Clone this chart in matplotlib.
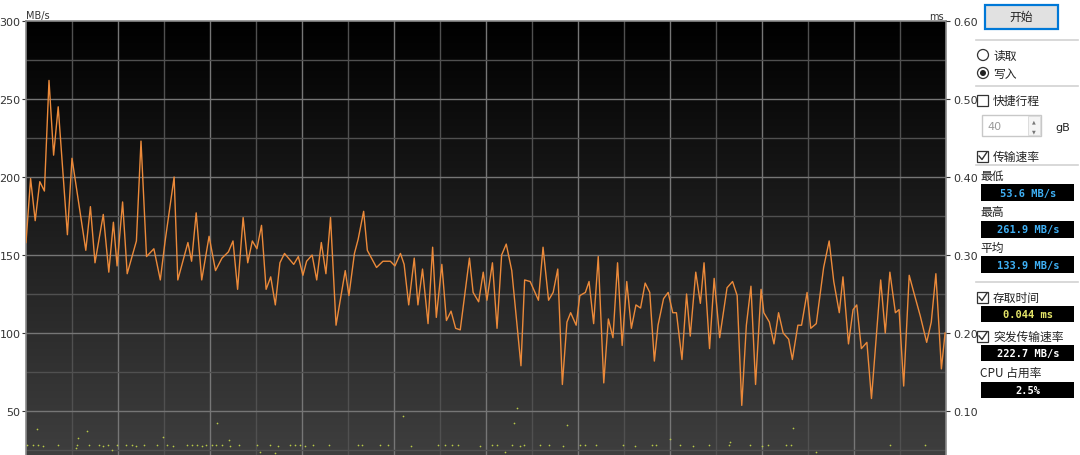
import numpy as np
import matplotlib
matplotlib.use("Agg")
import matplotlib.pyplot as plt
from matplotlib.patches import Rectangle, Ellipse
from matplotlib.lines import Line2D

# position of the test in percent, transfer rate in MB/s
pos = [0.0, 0.5, 1.0, 1.5, 2.0, 2.5, 3.0, 3.5, 4.5, 5.0, 6.5, 7.0, 7.5, 8.4, 9.0, 9.5, 9.9, 10.5, 11.0, 12.0,
       12.5, 13.1, 13.9, 14.6, 15.1, 16.1, 16.5, 17.6, 18.0, 18.5, 19.1, 19.9, 20.6, 21.3, 22.0, 22.5, 23.0, 23.6,
       24.1, 24.6, 25.1, 25.6, 26.1, 26.6, 27.1, 27.6, 28.1, 29.1, 29.6, 30.1, 30.5, 31.1, 31.6, 32.1, 32.6, 33.1,
       33.7, 34.7, 35.1, 35.7, 36.1, 36.7, 37.1, 38.1, 38.8, 39.6, 40.1, 40.7, 41.1, 41.6, 42.2, 42.6, 43.1, 43.7,
       44.2, 44.6, 45.2, 45.7, 46.2, 46.7, 47.2, 48.2, 48.6, 49.2, 49.7, 50.1, 50.7, 51.2, 51.7, 52.2, 52.8, 53.8,
       54.2, 54.8, 55.7, 56.2, 56.8, 57.3, 57.8, 58.3, 58.8, 59.2, 59.8, 60.2, 60.8, 61.2, 61.7, 62.2, 62.8, 63.3,
       63.8, 64.3, 64.8, 65.3, 65.8, 66.3, 66.8, 67.3, 67.8, 68.3, 68.7, 69.3, 69.8, 70.3, 70.7, 71.3, 71.8, 72.2,
       72.8, 73.3, 73.7, 74.3, 74.8, 75.4, 76.2, 76.8, 77.3, 77.8, 78.3, 78.8, 79.3, 79.9, 80.2, 80.8, 81.3, 81.8,
       82.3, 82.9, 83.3, 83.9, 84.3, 84.9, 85.3, 85.9, 86.7, 87.3, 87.8, 88.4, 88.8, 89.4, 89.9, 90.3, 90.8, 91.4,
       91.9, 92.4, 92.9, 93.4, 93.9, 94.5, 94.9, 95.4, 96.0, 96.5, 97.2, 97.9, 98.4, 98.9, 99.5, 99.9]
speed = [158, 199, 172, 197, 191, 261.9, 214, 245, 163, 212, 153, 181, 145, 176, 139, 171, 143, 184, 138, 159,
         223, 149, 154, 134, 158, 200, 134, 158, 146, 177, 134, 162, 140, 148, 152, 159, 128, 174,
         145, 159, 154, 169, 128, 136, 118, 145, 151, 144, 149, 137, 146, 150, 134, 158, 138, 174,
         105, 140, 124, 151, 160, 178, 153, 142, 146, 146, 143, 151, 144, 118, 148, 118, 141, 106,
         155, 110, 144, 108, 114, 103, 102, 148, 126, 120, 139, 121, 145, 103, 150, 157, 140, 79,
         134, 133, 121, 155, 121, 126, 141, 67, 107, 113, 105, 124, 126, 133, 106, 149, 68, 109,
         97, 145, 92, 133, 103, 118, 116, 132, 126, 82, 105, 122, 126, 113, 113, 83, 125, 98,
         139, 119, 145, 90, 135, 97, 129, 133, 124, 53.6, 105, 130, 67, 128, 113, 107, 93, 113,
         100, 96, 83, 105, 105, 126, 103, 106, 142, 159, 133, 113, 136, 93, 115, 118, 90, 94,
         58, 96, 134, 100, 139, 113, 115, 66, 137, 126, 111, 94, 107, 138, 77, 100]

# access time samples (percent, ms)
acc_pos = [0.1, 0.8, 1.3, 1.9, 3.5, 5.5, 6.8, 7.9, 8.4, 8.9, 9.9, 10.9, 11.5, 12.0, 12.8, 14.2, 15.3, 16.0,
           17.5, 18.0, 18.6, 19.1, 19.6, 20.2, 20.7, 21.3, 22.2, 23.1, 25.1, 26.5, 27.4, 28.7, 29.2, 29.8,
           30.3, 31.2, 32.9, 36.1, 1.2, 6.6, 5.6, 14.9, 20.8, 5.4, 9.3, 25.4, 27.1, 22.1,
           36.5, 38.5, 39.4, 41.9, 44.8, 45.5, 46.3, 47.0, 49.3, 50.6, 51.2, 52.8, 53.7, 54.1, 55.9, 56.8,
           58.4, 60.2, 60.8, 62.0, 64.9, 66.2, 68.0, 68.5, 71.1, 72.5, 74.2, 41.0, 53.4, 53.0, 58.8, 52.1,
           70.0, 76.4, 76.5, 78.7, 80.0, 80.7, 82.6, 83.2, 93.9, 97.7, 83.4, 85.9]
acc_ms = [0.056, 0.057, 0.056, 0.055, 0.056, 0.057, 0.056, 0.057, 0.055, 0.056, 0.056, 0.057, 0.056, 0.055,
          0.056, 0.057, 0.056, 0.055, 0.057, 0.056, 0.056, 0.055, 0.057, 0.056, 0.056, 0.057, 0.055, 0.056,
          0.056, 0.057, 0.055, 0.056, 0.057, 0.056, 0.055, 0.056, 0.057, 0.056, 0.077, 0.074, 0.065, 0.067,
          0.085, 0.052, 0.050, 0.047, 0.046, 0.063,
          0.056, 0.057, 0.056, 0.055, 0.057, 0.056, 0.056, 0.057, 0.055, 0.056, 0.057, 0.056, 0.055, 0.056,
          0.057, 0.056, 0.055, 0.057, 0.056, 0.056, 0.057, 0.055, 0.056, 0.057, 0.056, 0.055, 0.056, 0.094,
          0.104, 0.085, 0.082, 0.047, 0.064, 0.056, 0.060, 0.057, 0.055, 0.056, 0.057, 0.056, 0.056, 0.057,
          0.078, 0.047]

speed_ticks = [50, 100, 150, 200, 250, 300]
ms_ticks = [0.1, 0.2, 0.3, 0.4, 0.5, 0.6]

stats = [("最低", "53.6 MB/s", "#3fb0f5"), ("最高", "261.9 MB/s", "#3fb0f5"), ("平均", "133.9 MB/s", "#3fb0f5")]
access_text = "0.044 ms"
burst_text = "222.7 MB/s"
cpu_text = "2.5%"

W, H = 1080, 456
CJK = ["Noto Sans CJK SC", "DejaVu Sans"]

fig = plt.figure(figsize=(W / 100, H / 100), dpi=100)
fig.patch.set_facecolor("white")


def fx(x):
    return x / W


def fy(y):
    return 1 - y / H


# chart area: 300 MB/s at y=22, 78 px per 50 MB/s, extends below the image
left, right, top = 26, 946, 22
ax_h = 300 * 78 / 50
ax = fig.add_axes([fx(left), fy(top + ax_h), (right - left) / W, ax_h / H])
ax.set_xlim(0, 100)
ax.set_ylim(0, 300)

grad = np.linspace(0, 1, 256).reshape(-1, 1)
ax.imshow(grad, extent=[0, 100, 0, 300], aspect="auto", origin="upper",
          cmap=matplotlib.colors.LinearSegmentedColormap.from_list("bg", ["#000000", "#434343"]), zorder=0)

for v in np.arange(5, 100, 5):
    major = v % 10 == 0
    ax.axvline(v, color="#767676" if major else "#505050", lw=1.0, zorder=1)
for v in np.arange(25, 300, 25):
    major = v % 50 == 0
    ax.axhline(v, color="#767676" if major else "#505050", lw=1.0, zorder=1)

ax.plot(pos, speed, color="#ec8a3a", lw=1.0, zorder=3)

ax.set_yticks(speed_ticks)
ax.set_yticklabels([str(t) for t in speed_ticks])
ax.set_xticks([])
ax.tick_params(axis="y", labelsize=8, colors="#333333", length=3, width=0.8, pad=1)
for s in ax.spines.values():
    s.set_color("#8a8a8a")
    s.set_linewidth(1.2)

ax2 = ax.twinx()
ax2.set_ylim(0, 0.6)
ax2.scatter(acc_pos, acc_ms, s=1.5, color="#b8c848", linewidths=0, zorder=4)
ax2.set_yticks(ms_ticks)
ax2.set_yticklabels(["%.2f" % t for t in ms_ticks])
ax2.tick_params(axis="y", labelsize=8, colors="#333333", length=3, width=0.8, pad=2)
for s in ax2.spines.values():
    s.set_visible(False)

fig.text(fx(26), fy(16), "MB/s", fontsize=7, color="#333333", va="center", ha="left")
fig.text(fx(944), fy(17), "ms", fontsize=7, color="#333333", va="center", ha="right")

# right control panel


def rect(x0, y0, x1, y1, fc, ec="none", lw=1.0):
    fig.patches.append(Rectangle((fx(x0), fy(y1)), fx(x1) - fx(x0), fy(y0) - fy(y1),
                                 transform=fig.transFigure, facecolor=fc, edgecolor=ec, lw=lw))


def dot(x, y, r, fc, ec="none", lw=0.9):
    fig.add_artist(Ellipse((fx(x), fy(y)), 2 * r / W, 2 * r / H, transform=fig.transFigure,
                           facecolor=fc, edgecolor=ec, lw=lw))


def label(x, y, s, size=8.5, color="#222222", ha="left"):
    fig.text(fx(x), fy(y), s, fontsize=size, color=color, ha=ha, va="center", family=CJK)


def sep(y):
    fig.add_artist(Line2D([fx(976), fx(1078)], [fy(y), fy(y)], color="#d2d2d2", lw=1.2))


def checkbox(y, text, checked):
    rect(977, y - 5.5, 988, y + 5.5, "white", "#333333", 0.9)
    if checked:
        fig.add_artist(Line2D([fx(979), fx(982), fx(987)], [fy(y), fy(y + 3.5), fy(y - 4)],
                              color="#333333", lw=1.0))
    label(993, y, text)


def valuebox(y0, y1, text, color):
    rect(981, y0, 1074, y1, "black")
    fig.text(fx(1028), fy((y0 + y1) / 2), text, fontsize=7.5, color=color, ha="center", va="center",
             family="DejaVu Sans Mono", weight="bold")


rect(985, 6, 1058, 30, "#e1e1e1", "#0078d7", 1.6)
label(1021, 17.5, "开始", ha="center")
sep(41)

for y, text, on in [(56, "读取", False), (74, "写入", True)]:
    dot(983, y, 5.5, "white", "#333333")
    if on:
        dot(983, y, 3, "#222222")
    label(993, y, text)
sep(87)

checkbox(101, "快捷行程", False)
rect(982, 116, 1041, 137, "white", "#c8c8c8", 1.0)
rect(1028, 117, 1040, 136, "#f4f4f4", "#d8d8d8", 0.6)
fig.text(fx(987), fy(126.5), "40", fontsize=8, color="#9a9a9a", ha="left", va="center")
fig.text(fx(1034), fy(121.5), "▲", fontsize=3.5, color="#777777", ha="center", va="center")
fig.text(fx(1034), fy(131.5), "▼", fontsize=3.5, color="#777777", ha="center", va="center")
fig.text(fx(1055), fy(128), "gB", fontsize=8, color="#222222", ha="left", va="center")

checkbox(157, "传输速率", True)
sep(166)

for (name, val, col), y in zip(stats, [176, 213, 248]):
    label(980, y, name)
    valuebox(y + 9, y + 26, val, col)
sep(283)

checkbox(298, "存取时间", True)
valuebox(307, 323, access_text, "#e6e66a")
checkbox(337, "突发传输速率", True)
valuebox(346, 362, burst_text, "white")
label(980, 373, "CPU 占用率")
valuebox(383, 399, cpu_text, "white")

fig.savefig("out.png", dpi=100)
